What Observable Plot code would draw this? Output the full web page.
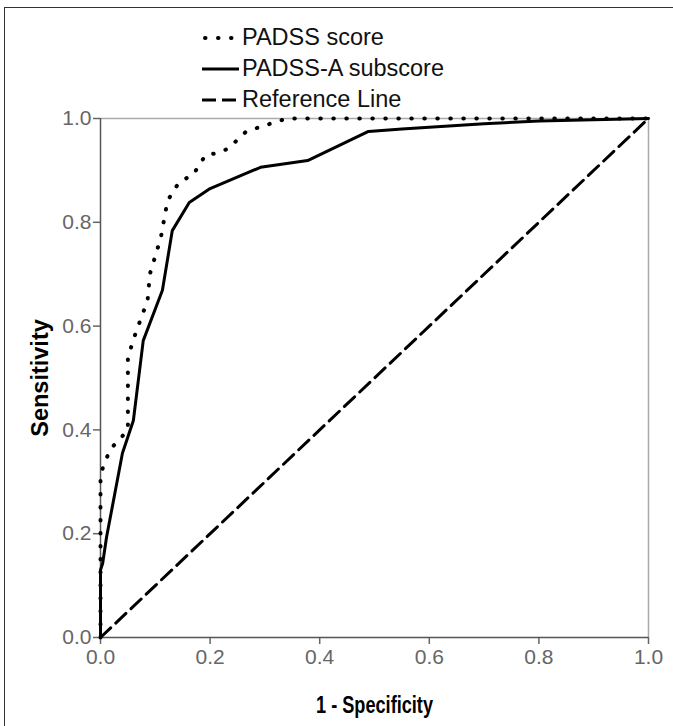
<!DOCTYPE html>
<html><head><meta charset="utf-8">
<script src="https://cdn.jsdelivr.net/npm/d3@7"></script>
<script src="https://cdn.jsdelivr.net/npm/@observablehq/plot@0.6"></script>
<style>
body{margin:0;background:#fff;font-family:"Liberation Sans",Arial,sans-serif;}
#wrap{position:relative;width:673px;height:726px;overflow:hidden;}
#border{position:absolute;left:4px;top:7px;width:720px;height:800px;border-left:1.5px solid #333;border-top:1.5px solid #333;pointer-events:none;}
#legend{position:absolute;left:202px;top:22px;}
.row{display:flex;align-items:center;height:31px;font-size:23.5px;color:#111;}
.row svg{margin-right:3px;display:block}
</style></head><body>
<div id="wrap"><div id="chart"></div><div id="border"></div><div id="legend"></div></div>
<script>
// Series names
const seriesNames = ["PADSS score", "PADSS-A subscore", "Reference Line"];
// PADSS score ROC curve (1 - specificity, sensitivity)
const padssX = [0, 0, 0.005, 0.018, 0.035, 0.05, 0.05, 0.064, 0.086, 0.09, 0.11, 0.122, 0.133, 0.146, 0.168, 0.192, 0.213, 0.233, 0.266, 0.31, 0.34, 1];
const padssY = [0, 0.31, 0.33, 0.363, 0.382, 0.40, 0.54, 0.586, 0.65, 0.70, 0.77, 0.84, 0.861, 0.88, 0.89, 0.93, 0.933, 0.942, 0.975, 0.99, 1, 1];
// PADSS-A subscore ROC curve
const subX = [0, 0, 0.004, 0.011, 0.04, 0.06, 0.078, 0.113, 0.131, 0.162, 0.2, 0.292, 0.378, 0.489, 0.55, 0.7, 0.8, 1];
const subY = [0, 0.13, 0.143, 0.193, 0.355, 0.418, 0.572, 0.669, 0.784, 0.838, 0.865, 0.906, 0.919, 0.975, 0.98, 0.99, 0.995, 1];
// Reference line
const refX = [0, 1];
const refY = [0, 1];
// Ticks
const xTicks = [0, 0.2, 0.4, 0.6, 0.8, 1.0];
const yTicks = [0, 0.2, 0.4, 0.6, 0.8, 1.0];
const xTitle = "1 - Specificity";
const yTitle = "Sensitivity";

const padss = padssX.map((x, i) => ({x, y: padssY[i]}));
const sub = subX.map((x, i) => ({x, y: subY[i]}));
const ref = refX.map((x, i) => ({x, y: refY[i]}));

const dashes = ["0.5,12.5", null, "14,7"];

const chart = Plot.plot({
  width: 673,
  height: 726,
  marginLeft: 100,
  marginRight: 25,
  marginTop: 118,
  marginBottom: 89,
  style: {fontFamily: "'Liberation Sans', Arial, sans-serif", background: "#fff"},
  x: {domain: [0, 1]},
  y: {domain: [0, 1]},
  marks: [
    Plot.ruleY([1], {stroke: "#aaa", strokeWidth: 1.5}),
    Plot.ruleX([1], {stroke: "#aaa", strokeWidth: 1.5}),
    Plot.axisX({ticks: xTicks, tickFormat: d3.format(".1f"), tickSize: 7, tickPadding: 5, fontSize: 21, color: "#666", strokeWidth: 1.5, label: null}),
    Plot.axisY({ticks: yTicks, tickFormat: d3.format(".1f"), tickSize: 7, tickPadding: 2, fontSize: 21, color: "#666", strokeWidth: 1.5, label: null}),
    Plot.ruleX([0], {stroke: "#555", strokeWidth: 1.5}),
    Plot.ruleY([0], {stroke: "#555", strokeWidth: 1.5}),
    Plot.line(ref, {x: "x", y: "y", stroke: "#000", strokeWidth: 3, strokeDasharray: dashes[2]}),
    Plot.line(sub, {x: "x", y: "y", stroke: "#000", strokeWidth: 3}),
    Plot.line(padss, {x: "x", y: "y", stroke: "#000", strokeWidth: 4, strokeLinecap: "round", strokeDasharray: dashes[0]}),
    Plot.text([xTitle], {text: d => d, frameAnchor: "bottom", dy: 68, fontSize: 23, fontWeight: "bold", fill: "#000", lineAnchor: "middle", textAnchor: "middle"}),
    Plot.text([yTitle], {text: d => d, frameAnchor: "left", dx: -60, rotate: -90, fontSize: 23.5, fontWeight: "bold", fill: "#000", lineAnchor: "middle", textAnchor: "middle"})
  ]
});
document.getElementById("chart").appendChild(chart);
// Condense the x-axis title to the width it has in the original figure
chart.querySelectorAll("text").forEach(t => {
  if (t.textContent === xTitle) {
    t.setAttribute("textLength", 117);
    t.setAttribute("lengthAdjust", "spacingAndGlyphs");
  }
});

const legend = document.getElementById("legend");
seriesNames.forEach((name, i) => {
  const row = document.createElement("div");
  row.className = "row";
  const ns = "http://www.w3.org/2000/svg";
  const svg = document.createElementNS(ns, "svg");
  svg.setAttribute("width", 37);
  svg.setAttribute("height", 10);
  const line = document.createElementNS(ns, "line");
  line.setAttribute("x1", i === 0 ? 3 : 0);
  line.setAttribute("x2", 37);
  line.setAttribute("y1", 5);
  line.setAttribute("y2", 5);
  line.setAttribute("stroke", "#000");
  line.setAttribute("stroke-width", i === 0 ? 4 : 3);
  if (i === 0) line.setAttribute("stroke-linecap", "round");
  if (dashes[i]) line.setAttribute("stroke-dasharray", i === 2 ? "14,6" : dashes[i]);
  svg.appendChild(line);
  row.appendChild(svg);
  const span = document.createElement("span");
  span.textContent = name;
  row.appendChild(span);
  legend.appendChild(row);
});
</script>
</body></html>
